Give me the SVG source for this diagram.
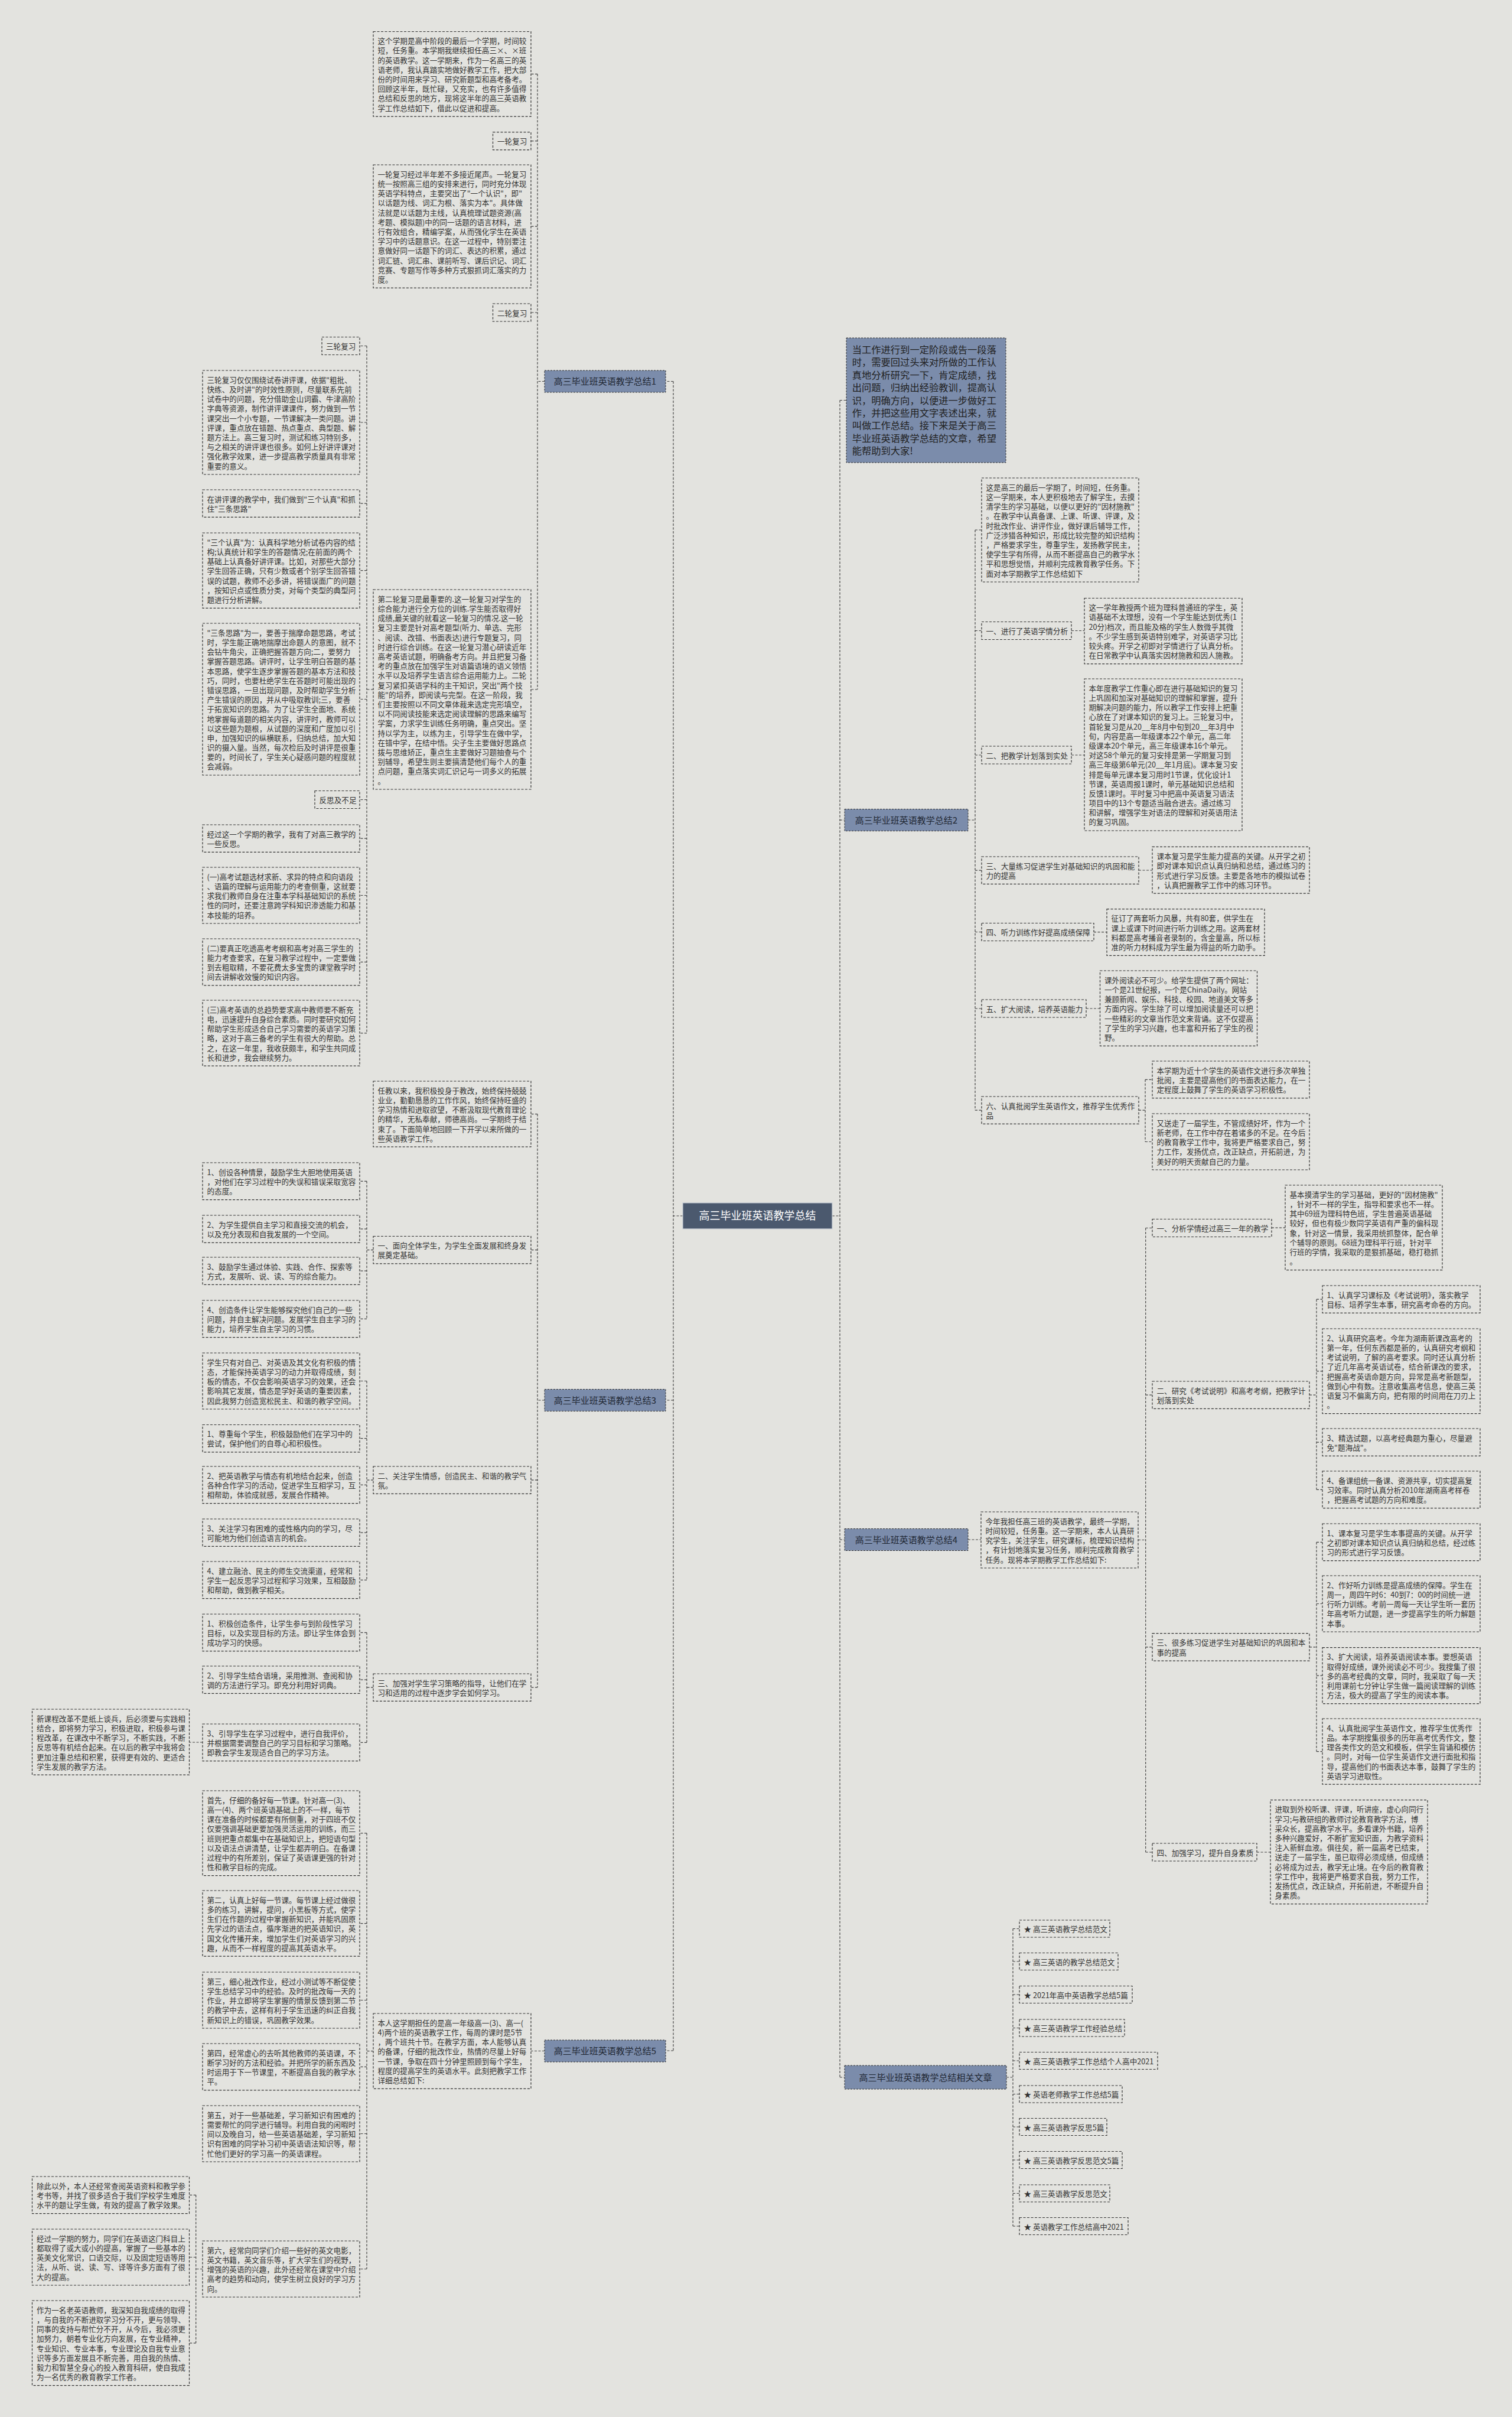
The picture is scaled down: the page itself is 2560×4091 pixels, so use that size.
<svg xmlns="http://www.w3.org/2000/svg" width="2560" height="4091" viewBox="0 0 2560 4091">
<style>
.t{font-family:"Noto Sans CJK SC","Noto Sans",sans-serif;font-size:12.6px;fill:#333}
.b{fill:none;stroke:#333;stroke-width:1.2;stroke-dasharray:4 2.5}
.c{fill:none;stroke:#444;stroke-width:1.2;stroke-dasharray:4 2.5}
.bn{fill:#7b8cab;stroke:#333;stroke-width:1;stroke-dasharray:3 2}
.bt{font-family:"Noto Sans CJK SC","Noto Sans",sans-serif;font-size:15px;fill:#1f2733;text-anchor:middle}
.it{font-family:"Noto Sans CJK SC","Noto Sans",sans-serif;font-size:16.3px;fill:#222}
.ct{font-family:"Noto Sans CJK SC","Noto Sans",sans-serif;font-size:18px;fill:#fff;text-anchor:middle}
</style>
<rect x="0" y="0" width="2560" height="4091" fill="#e3e3df"/>
<g id="connectors">
<path class="c" d="M1156,2058H1140M1140,645.5V3471M1140,645.5H1127M1140,2370H1127M1140,3471H1127"/>
<path class="c" d="M922,645.5H910M910,125.3V1167M910,125.3H899M910,238.6H899M910,383.2H899M910,529H899M910,1167H899"/>
<path class="c" d="M632,1167H621M621,585.5V1748.6M621,585.5H609M621,715H609M621,852.2H609M621,965.7H609M621,1183.5H609M621,1353.5H609M621,1419.2H609M621,1515.5H609M621,1628.4H609M621,1748.6H609"/>
<path class="c" d="M922,2370H910M910,1885.6V2856.2M910,1885.6H899M910,2115.7H899M910,2505.2H899M910,2856.2H899"/>
<path class="c" d="M632,2115.7H621M621,1999.3V2232.3M621,1999.3H609M621,2080.2H609M621,2151.2H609M621,2232.3H609"/>
<path class="c" d="M632,2505.2H621M621,2337.5V2674.3M621,2337.5H609M621,2434.7H609M621,2513.3H609M621,2594.2H609M621,2674.3H609"/>
<path class="c" d="M632,2856.2H621M621,2763.3V2949.3M621,2763.3H609M621,2843.2H609M621,2949.3H609M343,2949H320.5"/>
<path class="c" d="M922,3471.5H899M632,3471.7H621M621,3102.8V3840.5M621,3102.8H609M621,3255.6H609M621,3385.5H609M621,3498.4H609M621,3611.5H609M621,3840.5H609"/>
<path class="c" d="M343,3840.5H331.7M331.7,3715.3V3965.8M331.7,3715.3H320.5M331.7,3820.5H320.5M331.7,3965.8H320.5"/>
<path class="c" d="M1409,2058H1422M1422,677.5V3516M1422,677.5H1433M1422,1388H1430M1422,2606H1430M1422,3516H1430"/>
<path class="c" d="M1639,1388H1651M1651,897V1879.2M1651,897H1662M1651,1067.5H1662M1651,1278H1662M1651,1473.2H1662M1651,1577.5H1662M1651,1707H1662M1651,1879.2H1662"/>
<path class="c" d="M1814,1067.5H1836M1814,1278H1836M1928,1473H1951M1852,1577.7H1874M1839,1707H1862.5M1928,1879.2H1939M1939,1827.3V1932.5M1939,1827.3H1951M1939,1932.5H1951"/>
<path class="c" d="M1639,2606H1661M1927,2606.5H1939.7M1939.7,2078.5V3135M1939.7,2078.5H1951M1939.7,2361.2H1951M1939.7,2787.9H1951M1939.7,3135H1951"/>
<path class="c" d="M2153,2078.2H2176M2217,2361.2H2229M2229,2199.2V2521.3M2229,2199.2H2239M2229,2320.8H2239M2229,2441.2H2239M2229,2521.3H2239"/>
<path class="c" d="M2217,2787.9H2229M2229,2610.3V2964.6M2229,2610.3H2239M2229,2714.5H2239M2229,2836.2H2239M2229,2964.6H2239M2128,3135H2151"/>
<path class="c" d="M1704,3516H1715M1715,3264.5V3768M1715,3264.5H1726M1715,3320H1726M1715,3376H1726M1715,3432.5H1726M1715,3488H1726M1715,3544.5H1726M1715,3600H1726M1715,3656H1726M1715,3712.5H1726M1715,3768H1726"/>
</g>

<g id="center"><rect x="1156" y="2036" width="253" height="44" fill="#4b596e" stroke="#c9cfd8" stroke-width="1.2"/><text class="ct" x="1282.5" y="2064">高三毕业班英语教学总结</text></g>

<g id="branch1"><rect class="bn" x="922" y="627" width="205" height="37"/><text class="bt" x="1024.5" y="651">高三毕业班英语教学总结1</text></g>
<g id="branch3"><rect class="bn" x="922" y="2351.5" width="205" height="37"/><text class="bt" x="1024.5" y="2375.5">高三毕业班英语教学总结3</text></g>
<g id="branch5"><rect class="bn" x="922" y="3453" width="205" height="37"/><text class="bt" x="1024.5" y="3477">高三毕业班英语教学总结5</text></g>
<g id="branch2"><rect class="bn" x="1430" y="1369.5" width="209" height="37"/><text class="bt" x="1534.5" y="1393.5">高三毕业班英语教学总结2</text></g>
<g id="branch4"><rect class="bn" x="1430" y="2587.5" width="209" height="37"/><text class="bt" x="1534.5" y="2611.5">高三毕业班英语教学总结4</text></g>
<g id="branch-related"><rect class="bn" x="1430" y="3496" width="274" height="40"/><text class="bt" x="1567" y="3521.5">高三毕业班英语教学总结相关文章</text></g>

<g id="intro"><rect class="bn" x="1433" y="572" width="270" height="211"/><text class="it" x="1442.7" y="598"><tspan x="1442.7" dy="0">当工作进行到一定阶段或告一段落</tspan><tspan x="1442.7" dy="21.4">时，需要回过头来对所做的工作认</tspan><tspan x="1442.7" dy="21.4">真地分析研究一下，肯定成绩，找</tspan><tspan x="1442.7" dy="21.4">出问题，归纳出经验教训，提高认</tspan><tspan x="1442.7" dy="21.4">识，明确方向，以便进一步做好工</tspan><tspan x="1442.7" dy="21.4">作，并把这些用文字表述出来，就</tspan><tspan x="1442.7" dy="21.4">叫做工作总结。接下来是关于高三</tspan><tspan x="1442.7" dy="21.4">毕业班英语教学总结的文章，希望</tspan><tspan x="1442.7" dy="21.4">能帮助到大家!</tspan></text></g>

<!-- Branch 1 -->
<g id="a1"><rect class="b" x="632" y="53.5" width="267" height="143.6"/><text class="t" y="74.2"><tspan x="639.5" dy="0">这个学期是高中阶段的最后一个学期，时间较</tspan><tspan x="639.5" dy="16.2">短，任务重。本学期我继续担任高三×、×班</tspan><tspan x="639.5" dy="16.2">的英语教学。这一学期来，作为一名高三的英</tspan><tspan x="639.5" dy="16.2">语老师，我认真踏实地做好教学工作，把大部</tspan><tspan x="639.5" dy="16.2">份的时间用来学习、研究新题型和高考备考。</tspan><tspan x="639.5" dy="16.2">回顾这半年，既忙碌，又充实，也有许多值得</tspan><tspan x="639.5" dy="16.2">总结和反思的地方，现将这半年的高三英语教</tspan><tspan x="639.5" dy="16.2">学工作总结如下，借此以促进和提高。</tspan></text></g>
<g id="a2"><rect class="b" x="834.5" y="223.6" width="64.5" height="30"/><text class="t" x="842" y="244.3">一轮复习</text></g>
<g id="a3"><rect class="b" x="632" y="279" width="267" height="208.4"/><text class="t" y="299.7"><tspan x="639.5" dy="0">一轮复习经过半年差不多接近尾声。一轮复习</tspan><tspan x="639.5" dy="16.2">统一按照高三组的安排来进行，同时充分体现</tspan><tspan x="639.5" dy="16.2">英语学科特点，主要突出了"一个认识"，即"</tspan><tspan x="639.5" dy="16.2">以话题为线、词汇为根、落实为本"。具体做</tspan><tspan x="639.5" dy="16.2">法就是以话题为主线，认真梳理试题资源(高</tspan><tspan x="639.5" dy="16.2">考题、模拟题)中的同一话题的语言材料，进</tspan><tspan x="639.5" dy="16.2">行有效组合，精编学案，从而强化学生在英语</tspan><tspan x="639.5" dy="16.2">学习中的话题意识。在这一过程中，特别要注</tspan><tspan x="639.5" dy="16.2">意做好同一话题下的词汇、表达的积累，通过</tspan><tspan x="639.5" dy="16.2">词汇链、词汇串、课前听写、课后识记、词汇</tspan><tspan x="639.5" dy="16.2">竞赛、专题写作等多种方式狠抓词汇落实的力</tspan><tspan x="639.5" dy="16.2">度。</tspan></text></g>
<g id="a4"><rect class="b" x="834.5" y="514" width="64.5" height="30"/><text class="t" x="842" y="534.7">二轮复习</text></g>
<g id="a5"><rect class="b" x="632" y="998" width="267" height="338"/><text class="t" y="1018.7"><tspan x="639.5" dy="0">第二轮复习是最重要的.这一轮复习对学生的</tspan><tspan x="639.5" dy="16.2">综合能力进行全方位的训练.学生能否取得好</tspan><tspan x="639.5" dy="16.2">成绩,最关键的就看这一轮复习的情况.这一轮</tspan><tspan x="639.5" dy="16.2">复习主要是针对高考题型(听力、单选、完形</tspan><tspan x="639.5" dy="16.2">、阅读、改错、书面表达)进行专题复习，同</tspan><tspan x="639.5" dy="16.2">时进行综合训练。在这一轮复习潜心研读近年</tspan><tspan x="639.5" dy="16.2">高考英语试题，明确备考方向。并且把复习备</tspan><tspan x="639.5" dy="16.2">考的重点放在加强学生对语篇语境的语义领悟</tspan><tspan x="639.5" dy="16.2">水平以及培养学生语言综合运用能力上。二轮</tspan><tspan x="639.5" dy="16.2">复习紧扣英语学科的主干知识，突出"两个技</tspan><tspan x="639.5" dy="16.2">能"的培养，即阅读与完型。在这一阶段，我</tspan><tspan x="639.5" dy="16.2">们主要按照以不同文章体裁来选定完形填空，</tspan><tspan x="639.5" dy="16.2">以不同阅读技能来选定阅读理解的思路来编写</tspan><tspan x="639.5" dy="16.2">学案，力求学生训练任务明确，重点突出。坚</tspan><tspan x="639.5" dy="16.2">持以学为主，以练为主，引导学生在做中学，</tspan><tspan x="639.5" dy="16.2">在错中学，在结中悟。尖子生主要做好思路点</tspan><tspan x="639.5" dy="16.2">拨与思维矫正，重点生主要做好习题抽查与个</tspan><tspan x="639.5" dy="16.2">别辅导，希望生则主要搞清楚他们每个人的重</tspan><tspan x="639.5" dy="16.2">点问题，重点落实词汇识记与一词多义的拓展</tspan><tspan x="639.5" dy="16.2">。</tspan></text></g>
<g id="b1"><rect class="b" x="545" y="570.5" width="64" height="30"/><text class="t" x="552" y="591.2">三轮复习</text></g>
<g id="b2"><rect class="b" x="343" y="627" width="266" height="176"/><text class="t" y="647.7"><tspan x="350.5" dy="0">三轮复习仅仅围绕试卷讲评课，依据"粗批、</tspan><tspan x="350.5" dy="16.2">快练、及时讲"的时效性原则，尽量联系先前</tspan><tspan x="350.5" dy="16.2">试卷中的问题，充分借助金山词霸、牛津高阶</tspan><tspan x="350.5" dy="16.2">字典等资源，制作讲评课课件，努力做到一节</tspan><tspan x="350.5" dy="16.2">课突出一个小专题，一节课解决一类问题。讲</tspan><tspan x="350.5" dy="16.2">评课，重点放在错题、热点重点、典型题、解</tspan><tspan x="350.5" dy="16.2">题方法上。高三复习时，测试和练习特别多，</tspan><tspan x="350.5" dy="16.2">与之相关的讲评课也很多。如何上好讲评课对</tspan><tspan x="350.5" dy="16.2">强化教学效果，进一步提高教学质量具有非常</tspan><tspan x="350.5" dy="16.2">重要的意义。</tspan></text></g>
<g id="b3"><rect class="b" x="343" y="829" width="266" height="46.4"/><text class="t" y="849.7"><tspan x="350.5" dy="0">在讲评课的教学中，我们做到"三个认真"和抓</tspan><tspan x="350.5" dy="16.2">住"三条思路"</tspan></text></g>
<g id="b4"><rect class="b" x="343" y="902" width="266" height="127.4"/><text class="t" y="922.7"><tspan x="350.5" dy="0">"三个认真"为：认真科学地分析试卷内容的结</tspan><tspan x="350.5" dy="16.2">构;认真统计和学生的答题情况;在前面的两个</tspan><tspan x="350.5" dy="16.2">基础上认真备好讲评课。比如，对那些大部分</tspan><tspan x="350.5" dy="16.2">学生回答正确，只有少数或者个别学生回答错</tspan><tspan x="350.5" dy="16.2">误的试题，教师不必多讲，将错误面广的问题</tspan><tspan x="350.5" dy="16.2">，按知识点或性质分类，对每个类型的典型问</tspan><tspan x="350.5" dy="16.2">题进行分析讲解。</tspan></text></g>
<g id="b5"><rect class="b" x="343" y="1055" width="266" height="257"/><text class="t" y="1075.7"><tspan x="350.5" dy="0">"三条思路"为一，要善于揣摩命题思路，考试</tspan><tspan x="350.5" dy="16.2">时，学生能正确地揣摩出命题人的意图，就不</tspan><tspan x="350.5" dy="16.2">会钻牛角尖，正确把握答题方向;二，要努力</tspan><tspan x="350.5" dy="16.2">掌握答题思路。讲评时，让学生明白答题的基</tspan><tspan x="350.5" dy="16.2">本思路，使学生逐步掌握答题的基本方法和技</tspan><tspan x="350.5" dy="16.2">巧，同时，也要杜绝学生在答题时可能出现的</tspan><tspan x="350.5" dy="16.2">错误思路，一旦出现问题，及时帮助学生分析</tspan><tspan x="350.5" dy="16.2">产生错误的原因，并从中吸取教训;三，要善</tspan><tspan x="350.5" dy="16.2">于拓宽知识的思路。为了让学生全面地、系统</tspan><tspan x="350.5" dy="16.2">地掌握每道题的相关内容，讲评时，教师可以</tspan><tspan x="350.5" dy="16.2">以这些题为题根，从试题的深度和广度加以引</tspan><tspan x="350.5" dy="16.2">申，加强知识的纵横联系，归纳总结，加大知</tspan><tspan x="350.5" dy="16.2">识的摄入量。当然，每次检后及时讲评是很重</tspan><tspan x="350.5" dy="16.2">要的，时间长了，学生关心疑惑问题的程度就</tspan><tspan x="350.5" dy="16.2">会减弱。</tspan></text></g>
<g id="b6"><rect class="b" x="533" y="1338.5" width="76" height="30"/><text class="t" x="540.5" y="1359.2">反思及不足</text></g>
<g id="b7"><rect class="b" x="343" y="1396" width="266" height="46.4"/><text class="t" y="1416.7"><tspan x="350.5" dy="0">经过这一个学期的教学，我有了对高三教学的</tspan><tspan x="350.5" dy="16.2">一些反思。</tspan></text></g>
<g id="b8"><rect class="b" x="343" y="1468" width="266" height="95"/><text class="t" y="1488.7"><tspan x="350.5" dy="0">(一)高考试题选材求新、求异的特点和向语段</tspan><tspan x="350.5" dy="16.2">、语篇的理解与运用能力的考查侧重，这就要</tspan><tspan x="350.5" dy="16.2">求我们教师自身在注重本学科基础知识的系统</tspan><tspan x="350.5" dy="16.2">性的同时，还要注意跨学科知识渗透能力和基</tspan><tspan x="350.5" dy="16.2">本技能的培养。</tspan></text></g>
<g id="b9"><rect class="b" x="343" y="1589" width="266" height="78.8"/><text class="t" y="1609.7"><tspan x="350.5" dy="0">(二)要真正吃透高考考纲和高考对高三学生的</tspan><tspan x="350.5" dy="16.2">能力考查要求，在复习教学过程中，一定要做</tspan><tspan x="350.5" dy="16.2">到去粗取精，不要花费太多宝贵的课堂教学时</tspan><tspan x="350.5" dy="16.2">间去讲解收效慢的知识内容。</tspan></text></g>
<g id="b10"><rect class="b" x="343" y="1693" width="266" height="111.2"/><text class="t" y="1713.7"><tspan x="350.5" dy="0">(三)高考英语的总趋势要求高中教师要不断充</tspan><tspan x="350.5" dy="16.2">电，迅速提升自身综合素质。同时要研究如何</tspan><tspan x="350.5" dy="16.2">帮助学生形成适合自己学习需要的英语学习策</tspan><tspan x="350.5" dy="16.2">略，这对于高三备考的学生有很大的帮助。总</tspan><tspan x="350.5" dy="16.2">之，在这一年里，我收获颇丰，和学生共同成</tspan><tspan x="350.5" dy="16.2">长和进步，我会继续努力。</tspan></text></g>

<!-- Branch 3 -->
<g id="a6"><rect class="b" x="632" y="1830" width="267" height="111.2"/><text class="t" y="1850.7"><tspan x="639.5" dy="0">任教以来，我积极投身于教改，始终保持兢兢</tspan><tspan x="639.5" dy="16.2">业业，勤勤恳恳的工作作风，始终保持旺盛的</tspan><tspan x="639.5" dy="16.2">学习热情和进取欲望，不断汲取现代教育理论</tspan><tspan x="639.5" dy="16.2">的精华，无私奉献，师德高尚。一学期终于结</tspan><tspan x="639.5" dy="16.2">束了。下面简单地回顾一下开学以来所做的一</tspan><tspan x="639.5" dy="16.2">些英语教学工作。</tspan></text></g>
<g id="a7"><rect class="b" x="632" y="2092.5" width="267" height="46.4"/><text class="t" y="2113.2"><tspan x="639.5" dy="0">一、面向全体学生，为学生全面发展和终身发</tspan><tspan x="639.5" dy="16.2">展奠定基础。</tspan></text></g>
<g id="a8"><rect class="b" x="632" y="2482" width="267" height="46.4"/><text class="t" y="2502.7"><tspan x="639.5" dy="0">二、关注学生情感，创造民主、和谐的教学气</tspan><tspan x="639.5" dy="16.2">氛。</tspan></text></g>
<g id="a9"><rect class="b" x="632" y="2833" width="267" height="46.4"/><text class="t" y="2853.7"><tspan x="639.5" dy="0">三、加强对学生学习策略的指导，让他们在学</tspan><tspan x="639.5" dy="16.2">习和适用的过程中逐步学会如何学习。</tspan></text></g>
<g id="b11"><rect class="b" x="343" y="1968" width="266" height="62.6"/><text class="t" y="1988.7"><tspan x="350.5" dy="0">1、创设各种情景，鼓励学生大胆地使用英语</tspan><tspan x="350.5" dy="16.2">，对他们在学习过程中的失误和错误采取宽容</tspan><tspan x="350.5" dy="16.2">的态度。</tspan></text></g>
<g id="b12"><rect class="b" x="343" y="2057" width="266" height="46.4"/><text class="t" y="2077.7"><tspan x="350.5" dy="0">2、为学生提供自主学习和直接交流的机会，</tspan><tspan x="350.5" dy="16.2">以及充分表现和自我发展的一个空间。</tspan></text></g>
<g id="b13"><rect class="b" x="343" y="2128" width="266" height="46.4"/><text class="t" y="2148.7"><tspan x="350.5" dy="0">3、鼓励学生通过体验、实践、合作、探索等</tspan><tspan x="350.5" dy="16.2">方式，发展听、说、读、写的综合能力。</tspan></text></g>
<g id="b14"><rect class="b" x="343" y="2201" width="266" height="62.6"/><text class="t" y="2221.7"><tspan x="350.5" dy="0">4、创造条件让学生能够探究他们自己的一些</tspan><tspan x="350.5" dy="16.2">问题，并自主解决问题。发展学生自主学习的</tspan><tspan x="350.5" dy="16.2">能力，培养学生自主学习的习惯。</tspan></text></g>
<g id="b15"><rect class="b" x="343" y="2290" width="266" height="95"/><text class="t" y="2310.7"><tspan x="350.5" dy="0">学生只有对自己、对英语及其文化有积极的情</tspan><tspan x="350.5" dy="16.2">态，才能保持英语学习的动力并取得成绩，刻</tspan><tspan x="350.5" dy="16.2">板的情态，不仅会影响英语学习的效果，还会</tspan><tspan x="350.5" dy="16.2">影响其它发展，情态是学好英语的重要因素，</tspan><tspan x="350.5" dy="16.2">因此我努力创造宽松民主、和谐的教学空间。</tspan></text></g>
<g id="b16"><rect class="b" x="343" y="2411.5" width="266" height="46.4"/><text class="t" y="2432.2"><tspan x="350.5" dy="0">1、尊重每个学生，积极鼓励他们在学习中的</tspan><tspan x="350.5" dy="16.2">尝试，保护他们的自尊心和积极性。</tspan></text></g>
<g id="b17"><rect class="b" x="343" y="2482" width="266" height="62.6"/><text class="t" y="2502.7"><tspan x="350.5" dy="0">2、把英语教学与情态有机地结合起来，创造</tspan><tspan x="350.5" dy="16.2">各种合作学习的活动，促进学生互相学习，互</tspan><tspan x="350.5" dy="16.2">相帮助，体验成就感，发展合作精神。</tspan></text></g>
<g id="b18"><rect class="b" x="343" y="2571" width="266" height="46.4"/><text class="t" y="2591.7"><tspan x="350.5" dy="0">3、关注学习有困难的或性格内向的学习，尽</tspan><tspan x="350.5" dy="16.2">可能地为他们创造语言的机会。</tspan></text></g>
<g id="b19"><rect class="b" x="343" y="2643" width="266" height="62.6"/><text class="t" y="2663.7"><tspan x="350.5" dy="0">4、建立融洽、民主的师生交流渠道，经常和</tspan><tspan x="350.5" dy="16.2">学生一起反思学习过程和学习效果，互相鼓励</tspan><tspan x="350.5" dy="16.2">和帮助，做到教学相关。</tspan></text></g>
<g id="b20"><rect class="b" x="343" y="2732" width="266" height="62.6"/><text class="t" y="2752.7"><tspan x="350.5" dy="0">1、积极创造条件，让学生参与到阶段性学习</tspan><tspan x="350.5" dy="16.2">目标，以及实现目标的方法。即让学生体会到</tspan><tspan x="350.5" dy="16.2">成功学习的快感。</tspan></text></g>
<g id="b21"><rect class="b" x="343" y="2820" width="266" height="46.4"/><text class="t" y="2840.7"><tspan x="350.5" dy="0">2、引导学生结合语境，采用推测、查阅和协</tspan><tspan x="350.5" dy="16.2">调的方法进行学习。即充分利用好词典。</tspan></text></g>
<g id="b22"><rect class="b" x="343" y="2918" width="266" height="62.6"/><text class="t" y="2938.7"><tspan x="350.5" dy="0">3、引导学生在学习过程中，进行自我评价，</tspan><tspan x="350.5" dy="16.2">并根据需要调整自己的学习目标和学习策略。</tspan><tspan x="350.5" dy="16.2">即教会学生发现适合自己的学习方法。</tspan></text></g>
<g id="c1"><rect class="b" x="54.5" y="2893" width="266" height="111.2"/><text class="t" y="2913.7"><tspan x="62" dy="0">新课程改革不是纸上谈兵，后必须要与实践相</tspan><tspan x="62" dy="16.2">结合，即将努力学习，积极进取，积极参与课</tspan><tspan x="62" dy="16.2">程改革，在课改中不断学习，不断实践，不断</tspan><tspan x="62" dy="16.2">反思等有机结合起来。在以后的教学中我将会</tspan><tspan x="62" dy="16.2">更加注重总结和积累，获得更有效的、更适合</tspan><tspan x="62" dy="16.2">学生发展的教学方法。</tspan></text></g>

<!-- Branch 5 -->
<g id="a10"><rect class="b" x="632" y="3408" width="267" height="127.4"/><text class="t" y="3428.7"><tspan x="639.5" dy="0">本人这学期担任的是高一年级高一(3)、高一(</tspan><tspan x="639.5" dy="16.2">4)两个班的英语教学工作，每周的课时是5节</tspan><tspan x="639.5" dy="16.2">，两个班共十节。在教学方面，本人能够认真</tspan><tspan x="639.5" dy="16.2">的备课，仔细的批改作业，热情的尽量上好每</tspan><tspan x="639.5" dy="16.2">一节课，争取在四十分钟里照顾到每个学生，</tspan><tspan x="639.5" dy="16.2">程度的提高学生的英语水平。此刻把教学工作</tspan><tspan x="639.5" dy="16.2">详细总结如下:</tspan></text></g>
<g id="b23"><rect class="b" x="343" y="3031" width="266" height="143.6"/><text class="t" y="3051.7"><tspan x="350.5" dy="0">首先，仔细的备好每一节课。针对高一(3)、</tspan><tspan x="350.5" dy="16.2">高一(4)、两个班英语基础上的不一样，每节</tspan><tspan x="350.5" dy="16.2">课在准备的时候都要有所侧重，对于四班不仅</tspan><tspan x="350.5" dy="16.2">仅要强调基础更要加强灵活运用的训练，而三</tspan><tspan x="350.5" dy="16.2">班则把重点都集中在基础知识上，把短语句型</tspan><tspan x="350.5" dy="16.2">以及语法点讲清楚，让学生都弄明白。在备课</tspan><tspan x="350.5" dy="16.2">过程中的有所差别，保证了英语课更强的针对</tspan><tspan x="350.5" dy="16.2">性和教学目标的完成。</tspan></text></g>
<g id="b24"><rect class="b" x="343" y="3200" width="266" height="111.2"/><text class="t" y="3220.7"><tspan x="350.5" dy="0">第二，认真上好每一节课。每节课上经过做很</tspan><tspan x="350.5" dy="16.2">多的练习，讲解，提问，小黑板等方式，使学</tspan><tspan x="350.5" dy="16.2">生们在作题的过程中掌握新知识，并能巩固原</tspan><tspan x="350.5" dy="16.2">先学过的语法点，循序渐进的把英语知识，英</tspan><tspan x="350.5" dy="16.2">国文化传播开来，增加学生们对英语学习的兴</tspan><tspan x="350.5" dy="16.2">趣，从而不一样程度的提高其英语水平。</tspan></text></g>
<g id="b25"><rect class="b" x="343" y="3338" width="266" height="95"/><text class="t" y="3358.7"><tspan x="350.5" dy="0">第三，细心批改作业，经过小测试等不断促使</tspan><tspan x="350.5" dy="16.2">学生总结学习中的经验。及时的批改每一天的</tspan><tspan x="350.5" dy="16.2">作业，并立即将学生掌握的情景反馈到第二节</tspan><tspan x="350.5" dy="16.2">的教学中去，这样有利于学生迅速的纠正自我</tspan><tspan x="350.5" dy="16.2">新知识上的错误，巩固教学效果。</tspan></text></g>
<g id="b26"><rect class="b" x="343" y="3459" width="266" height="78.8"/><text class="t" y="3479.7"><tspan x="350.5" dy="0">第四，经常虚心的去听其他教师的英语课，不</tspan><tspan x="350.5" dy="16.2">断学习好的方法和经验。并把所学的新东西及</tspan><tspan x="350.5" dy="16.2">时运用于下一节课里，不断提高自我的教学水</tspan><tspan x="350.5" dy="16.2">平。</tspan></text></g>
<g id="b27"><rect class="b" x="343" y="3564" width="266" height="95"/><text class="t" y="3584.7"><tspan x="350.5" dy="0">第五，对于一些基础差，学习新知识有困难的</tspan><tspan x="350.5" dy="16.2">需要帮忙的同学进行辅导。利用自我的闲暇时</tspan><tspan x="350.5" dy="16.2">间以及晚自习，给一些英语基础差，学习新知</tspan><tspan x="350.5" dy="16.2">识有困难的同学补习初中英语语法知识等，帮</tspan><tspan x="350.5" dy="16.2">忙他们更好的学习高一的英语课程。</tspan></text></g>
<g id="b28"><rect class="b" x="343" y="3793" width="266" height="95"/><text class="t" y="3813.7"><tspan x="350.5" dy="0">第六，经常向同学们介绍一些好的英文电影，</tspan><tspan x="350.5" dy="16.2">英文书籍，英文音乐等，扩大学生们的视野，</tspan><tspan x="350.5" dy="16.2">增强的英语的兴趣，此外还经常在课堂中介绍</tspan><tspan x="350.5" dy="16.2">高考的趋势和动向，使学生树立良好的学习方</tspan><tspan x="350.5" dy="16.2">向。</tspan></text></g>
<g id="c2"><rect class="b" x="54.5" y="3684" width="266" height="62.6"/><text class="t" y="3704.7"><tspan x="62" dy="0">除此以外，本人还经常查阅英语资料和教学参</tspan><tspan x="62" dy="16.2">考书等，并找了很多适合于我们学校学生难度</tspan><tspan x="62" dy="16.2">水平的题让学生做，有效的提高了教学效果。</tspan></text></g>
<g id="c3"><rect class="b" x="54.5" y="3773" width="266" height="95"/><text class="t" y="3793.7"><tspan x="62" dy="0">经过一学期的努力，同学们在英语这门科目上</tspan><tspan x="62" dy="16.2">都取得了或大或小的提高，掌握了一些基本的</tspan><tspan x="62" dy="16.2">英美文化常识，口语交际，以及固定短语等用</tspan><tspan x="62" dy="16.2">法，从听、说、读、写、译等许多方面有了很</tspan><tspan x="62" dy="16.2">大的提高。</tspan></text></g>
<g id="c4"><rect class="b" x="54.5" y="3894" width="266" height="143.6"/><text class="t" y="3914.7"><tspan x="62" dy="0">作为一名老英语教师，我深知自我成绩的取得</tspan><tspan x="62" dy="16.2">，与自我的不断进取学习分不开，更与领导、</tspan><tspan x="62" dy="16.2">同事的支持与帮忙分不开，从今后，我必须更</tspan><tspan x="62" dy="16.2">加努力，朝着专业化方向发展，在专业精神，</tspan><tspan x="62" dy="16.2">专业知识、专业本事，专业理论及自我专业意</tspan><tspan x="62" dy="16.2">识等多方面发展且不断完善，用自我的热情、</tspan><tspan x="62" dy="16.2">毅力和智慧全身心的投入教育科研，使自我成</tspan><tspan x="62" dy="16.2">为一名优秀的教育教学工作者。</tspan></text></g>

<!-- Branch 2 -->
<g id="r1"><rect class="b" x="1662" y="809" width="266" height="176"/><text class="t" y="829.7"><tspan x="1669.5" dy="0">这是高三的最后一学期了，时间短，任务重。</tspan><tspan x="1669.5" dy="16.2">这一学期来，本人更积极地去了解学生，去摸</tspan><tspan x="1669.5" dy="16.2">清学生的学习基础，以便以更好的"因材施教"</tspan><tspan x="1669.5" dy="16.2">。在教学中认真备课、上课、听课、评课，及</tspan><tspan x="1669.5" dy="16.2">时批改作业、讲评作业，做好课后辅导工作，</tspan><tspan x="1669.5" dy="16.2">广泛涉猎各种知识，形成比较完整的知识结构</tspan><tspan x="1669.5" dy="16.2">，严格要求学生，尊重学生，发扬教学民主，</tspan><tspan x="1669.5" dy="16.2">使学生学有所得，从而不断提高自己的教学水</tspan><tspan x="1669.5" dy="16.2">平和思想觉悟，并顺利完成教育教学任务。下</tspan><tspan x="1669.5" dy="16.2">面对本学期教学工作总结如下</tspan></text></g>
<g id="r2"><rect class="b" x="1662" y="1052.5" width="152" height="30"/><text class="t" x="1669.5" y="1073.2">一、进行了英语学情分析</text></g>
<g id="r2c"><rect class="b" x="1836" y="1012.5" width="267" height="111.2"/><text class="t" y="1033.2"><tspan x="1843.5" dy="0">这一学年教授两个班为理科普通班的学生，英</tspan><tspan x="1843.5" dy="16.2">语基础不太理想，没有一个学生能达到优秀(1</tspan><tspan x="1843.5" dy="16.2">20分)档次，而且能及格的学生人数微乎其微</tspan><tspan x="1843.5" dy="16.2">。不少学生感到英语特别难学，对英语学习比</tspan><tspan x="1843.5" dy="16.2">较头疼。开学之初即对学情进行了认真分析。</tspan><tspan x="1843.5" dy="16.2">在日常教学中认真落实因材施教和因人施教。</tspan></text></g>
<g id="r3"><rect class="b" x="1662" y="1263" width="152" height="30"/><text class="t" x="1669.5" y="1283.7">二、把教学计划落到实处</text></g>
<g id="r3c"><rect class="b" x="1836" y="1149" width="267" height="257"/><text class="t" y="1169.7"><tspan x="1843.5" dy="0">本年度教学工作重心即在进行基础知识的复习</tspan><tspan x="1843.5" dy="16.2">上巩固和加深对基础知识的理解和掌握，提升</tspan><tspan x="1843.5" dy="16.2">期解决问题的能力，所以教学工作安排上把重</tspan><tspan x="1843.5" dy="16.2">心放在了对课本知识的复习上。三轮复习中，</tspan><tspan x="1843.5" dy="16.2">首轮复习是从20__年8月中旬到20__年3月中</tspan><tspan x="1843.5" dy="16.2">旬，内容是高一年级课本22个单元，高二年</tspan><tspan x="1843.5" dy="16.2">级课本20个单元，高三年级课本16个单元。</tspan><tspan x="1843.5" dy="16.2">对这58个单元的复习安排是第一学期复习到</tspan><tspan x="1843.5" dy="16.2">高三年级第6单元(20__年1月底)。课本复习安</tspan><tspan x="1843.5" dy="16.2">排是每单元课本复习用时1节课，优化设计1</tspan><tspan x="1843.5" dy="16.2">节课，英语周报1课时，单元基础知识总结和</tspan><tspan x="1843.5" dy="16.2">反馈1课时。平时复习中把高中英语复习语法</tspan><tspan x="1843.5" dy="16.2">项目中的13个专题适当融合进去。通过练习</tspan><tspan x="1843.5" dy="16.2">和讲解，增强学生对语法的理解和对英语用法</tspan><tspan x="1843.5" dy="16.2">的复习巩固。</tspan></text></g>
<g id="r4"><rect class="b" x="1662" y="1450" width="266" height="46.4"/><text class="t" y="1470.7"><tspan x="1669.5" dy="0">三、大量练习促进学生对基础知识的巩固和能</tspan><tspan x="1669.5" dy="16.2">力的提高</tspan></text></g>
<g id="r4c"><rect class="b" x="1951" y="1433.4" width="266" height="78.8"/><text class="t" y="1454.1"><tspan x="1958.5" dy="0">课本复习是学生能力提高的关键。从开学之初</tspan><tspan x="1958.5" dy="16.2">即对课本知识点认真归纳和总结，通过练习的</tspan><tspan x="1958.5" dy="16.2">形式进行学习反馈。主要是各地市的模拟试卷</tspan><tspan x="1958.5" dy="16.2">，认真把握教学工作中的练习环节。</tspan></text></g>
<g id="r5"><rect class="b" x="1662" y="1562.5" width="190" height="30"/><text class="t" x="1669.5" y="1583.2">四、听力训练作好提高成绩保障</text></g>
<g id="r5c"><rect class="b" x="1874" y="1538.6" width="267" height="78.8"/><text class="t" y="1559.3"><tspan x="1881.5" dy="0">征订了两套听力风暴，共有80套，供学生在</tspan><tspan x="1881.5" dy="16.2">课上或课下时间进行听力训练之用。这两套材</tspan><tspan x="1881.5" dy="16.2">料都是高考播音者录制的，含金量高，所以标</tspan><tspan x="1881.5" dy="16.2">准的听力材料成为学生最为得益的听力助手。</tspan></text></g>
<g id="r6"><rect class="b" x="1662" y="1692" width="177" height="30"/><text class="t" x="1669.5" y="1712.7">五、扩大阅读，培养英语能力</text></g>
<g id="r6c"><rect class="b" x="1862.5" y="1643" width="266" height="127.4"/><text class="t" y="1663.7"><tspan x="1870" dy="0">课外阅读必不可少。给学生提供了两个网址：</tspan><tspan x="1870" dy="16.2">一个是21世纪报，一个是ChinaDaily。网站</tspan><tspan x="1870" dy="16.2">兼顾新闻、娱乐、科技、校园、地道美文等多</tspan><tspan x="1870" dy="16.2">方面内容。学生除了可以增加阅读量还可以把</tspan><tspan x="1870" dy="16.2">一些精彩的文章当作范文来背诵。这不仅提高</tspan><tspan x="1870" dy="16.2">了学生的学习兴趣，也丰富和开拓了学生的视</tspan><tspan x="1870" dy="16.2">野。</tspan></text></g>
<g id="r7"><rect class="b" x="1662" y="1856" width="266" height="46.4"/><text class="t" y="1876.7"><tspan x="1669.5" dy="0">六、认真批阅学生英语作文，推荐学生优秀作</tspan><tspan x="1669.5" dy="16.2">品</tspan></text></g>
<g id="r7a"><rect class="b" x="1951" y="1796" width="266" height="62.6"/><text class="t" y="1816.7"><tspan x="1958.5" dy="0">本学期为近十个学生的英语作文进行多次单独</tspan><tspan x="1958.5" dy="16.2">批阅，主要是提高他们的书面表达能力，在一</tspan><tspan x="1958.5" dy="16.2">定程度上鼓舞了学生的英语学习积极性。</tspan></text></g>
<g id="r7b"><rect class="b" x="1951" y="1885" width="266" height="95"/><text class="t" y="1905.7"><tspan x="1958.5" dy="0">又送走了一届学生，不管成绩好坏，作为一个</tspan><tspan x="1958.5" dy="16.2">新老师，在工作中存在着诸多的不足。在今后</tspan><tspan x="1958.5" dy="16.2">的教育教学工作中，我将更严格要求自己，努</tspan><tspan x="1958.5" dy="16.2">力工作，发扬优点，改正缺点，开拓前进，为</tspan><tspan x="1958.5" dy="16.2">美好的明天贡献自己的力量。</tspan></text></g>

<!-- Branch 4 -->
<g id="s0"><rect class="b" x="1661" y="2559" width="266" height="95"/><text class="t" y="2579.7"><tspan x="1668.5" dy="0">今年我担任高三班的英语教学，最终一学期，</tspan><tspan x="1668.5" dy="16.2">时间较短，任务重。这一学期来，本人认真研</tspan><tspan x="1668.5" dy="16.2">究学生，关注学生，研究课标，梳理知识结构</tspan><tspan x="1668.5" dy="16.2">，有计划地落实复习任务，顺利完成教育教学</tspan><tspan x="1668.5" dy="16.2">任务。现将本学期教学工作总结如下:</tspan></text></g>
<g id="s1"><rect class="b" x="1951" y="2063.5" width="202" height="30"/><text class="t" x="1958.5" y="2084.2">一、分析学情经过高三一年的教学</text></g>
<g id="s1c"><rect class="b" x="2176" y="2006" width="266" height="143.6"/><text class="t" y="2026.7"><tspan x="2183.5" dy="0">基本摸清学生的学习基础，更好的"因材施教"</tspan><tspan x="2183.5" dy="16.2">，针对不一样的学生，指导和要求也不一样。</tspan><tspan x="2183.5" dy="16.2">其中69班为理科特色班，学生普遍英语基础</tspan><tspan x="2183.5" dy="16.2">较好，但也有极少数同学英语有严重的偏科现</tspan><tspan x="2183.5" dy="16.2">象，针对这一情景，我采用统抓整体，配合单</tspan><tspan x="2183.5" dy="16.2">个辅导的原则。68班为理科平行班，针对平</tspan><tspan x="2183.5" dy="16.2">行班的学情，我采取的是狠抓基础，稳打稳抓</tspan><tspan x="2183.5" dy="16.2">。</tspan></text></g>
<g id="s2"><rect class="b" x="1951" y="2338" width="266" height="46.4"/><text class="t" y="2358.7"><tspan x="1958.5" dy="0">二、研究《考试说明》和高考考纲，把教学计</tspan><tspan x="1958.5" dy="16.2">划落到实处</tspan></text></g>
<g id="s2a"><rect class="b" x="2239" y="2176" width="267" height="46.4"/><text class="t" y="2196.7"><tspan x="2246.5" dy="0">1、认真学习课标及《考试说明》，落实教学</tspan><tspan x="2246.5" dy="16.2">目标、培养学生本事，研究高考命卷的方向。</tspan></text></g>
<g id="s2b"><rect class="b" x="2239" y="2249" width="267" height="143.6"/><text class="t" y="2269.7"><tspan x="2246.5" dy="0">2、认真研究高考。今年为湖南新课改高考的</tspan><tspan x="2246.5" dy="16.2">第一年，任何东西都是新的，认真研究考纲和</tspan><tspan x="2246.5" dy="16.2">考试说明，了解的高考要求。同时还认真分析</tspan><tspan x="2246.5" dy="16.2">了近几年高考英语试卷，结合新课改的要求，</tspan><tspan x="2246.5" dy="16.2">把握高考英语命题方向，异常是高考新题型，</tspan><tspan x="2246.5" dy="16.2">做到心中有数。注意收集高考信息，使高三英</tspan><tspan x="2246.5" dy="16.2">语复习不偏离方向，把有限的时间用在刀刃上</tspan><tspan x="2246.5" dy="16.2">。</tspan></text></g>
<g id="s2c"><rect class="b" x="2239" y="2418" width="267" height="46.4"/><text class="t" y="2438.7"><tspan x="2246.5" dy="0">3、精选试题，以高考经典题为重心，尽量避</tspan><tspan x="2246.5" dy="16.2">免"题海战"。</tspan></text></g>
<g id="s2d"><rect class="b" x="2239" y="2490" width="267" height="62.6"/><text class="t" y="2510.7"><tspan x="2246.5" dy="0">4、备课组统一备课、资源共享，切实提高复</tspan><tspan x="2246.5" dy="16.2">习效率。同时认真分析2010年湖南高考样卷</tspan><tspan x="2246.5" dy="16.2">，把握高考试题的方向和难度。</tspan></text></g>
<g id="s3"><rect class="b" x="1951" y="2764.7" width="266" height="46.4"/><text class="t" y="2785.4"><tspan x="1958.5" dy="0">三、很多练习促进学生对基础知识的巩固和本</tspan><tspan x="1958.5" dy="16.2">事的提高</tspan></text></g>
<g id="s3a"><rect class="b" x="2239" y="2579" width="267" height="62.6"/><text class="t" y="2599.7"><tspan x="2246.5" dy="0">1、课本复习是学生本事提高的关键。从开学</tspan><tspan x="2246.5" dy="16.2">之初即对课本知识点认真归纳和总结，经过练</tspan><tspan x="2246.5" dy="16.2">习的形式进行学习反馈。</tspan></text></g>
<g id="s3b"><rect class="b" x="2239" y="2667" width="267" height="95"/><text class="t" y="2687.7"><tspan x="2246.5" dy="0">2、作好听力训练是提高成绩的保障。学生在</tspan><tspan x="2246.5" dy="16.2">周一，周四午时6：40到7：00的时间统一进</tspan><tspan x="2246.5" dy="16.2">行听力训练。考前一周每一天让学生听一套历</tspan><tspan x="2246.5" dy="16.2">年高考听力试题，进一步提高学生的听力解题</tspan><tspan x="2246.5" dy="16.2">本事。</tspan></text></g>
<g id="s3c"><rect class="b" x="2239" y="2788.7" width="267" height="95"/><text class="t" y="2809.4"><tspan x="2246.5" dy="0">3、扩大阅读，培养英语阅读本事。要想英语</tspan><tspan x="2246.5" dy="16.2">取得好成绩，课外阅读必不可少。我搜集了很</tspan><tspan x="2246.5" dy="16.2">多的高考经典的文章，同时，我采取了每一天</tspan><tspan x="2246.5" dy="16.2">利用课前七分钟让学生做一篇阅读理解的训练</tspan><tspan x="2246.5" dy="16.2">方法，极大的提高了学生的阅读本事。</tspan></text></g>
<g id="s3d"><rect class="b" x="2239" y="2909" width="267" height="111.2"/><text class="t" y="2929.7"><tspan x="2246.5" dy="0">4、认真批阅学生英语作文，推荐学生优秀作</tspan><tspan x="2246.5" dy="16.2">品。本学期搜集很多的历年高考优秀作文，整</tspan><tspan x="2246.5" dy="16.2">理各类作文的范文和模板，供学生背诵和模仿</tspan><tspan x="2246.5" dy="16.2">。同时，对每一位学生英语作文进行面批和指</tspan><tspan x="2246.5" dy="16.2">导，提高他们的书面表达本事，鼓舞了学生的</tspan><tspan x="2246.5" dy="16.2">英语学习进取性。</tspan></text></g>
<g id="s4"><rect class="b" x="1951" y="3120" width="177" height="30"/><text class="t" x="1958.5" y="3140.7">四、加强学习，提升自身素质</text></g>
<g id="s4c"><rect class="b" x="2151" y="3046.6" width="266" height="176"/><text class="t" y="3067.3"><tspan x="2158.5" dy="0">进取到外校听课、评课，听讲座，虚心向同行</tspan><tspan x="2158.5" dy="16.2">学习;与教研组的教师讨论教育教学方法，博</tspan><tspan x="2158.5" dy="16.2">采众长，提高教学水平。多看课外书籍，培养</tspan><tspan x="2158.5" dy="16.2">多种兴趣爱好，不断扩宽知识面，为教学资料</tspan><tspan x="2158.5" dy="16.2">注入新鲜血液。俱往矣，新一届高考已结束，</tspan><tspan x="2158.5" dy="16.2">送走了一届学生，虽已取得必须成绩，但成绩</tspan><tspan x="2158.5" dy="16.2">必将成为过去，教学无止境。在今后的教育教</tspan><tspan x="2158.5" dy="16.2">学工作中，我将更严格要求自我，努力工作，</tspan><tspan x="2158.5" dy="16.2">发扬优点，改正缺点，开拓前进，不断提升自</tspan><tspan x="2158.5" dy="16.2">身素质。</tspan></text></g>

<!-- Related -->
<g id="rel1"><rect class="b" x="1726" y="3250" width="153" height="29"/><text class="t" x="1733.5" y="3270">★ 高三英语教学总结范文</text></g>
<g id="rel2"><rect class="b" x="1726" y="3305.5" width="167" height="29"/><text class="t" x="1733.5" y="3325.5">★ 高三英语的教学总结范文</text></g>
<g id="rel3"><rect class="b" x="1726" y="3361.5" width="191" height="29"/><text class="t" x="1733.5" y="3381.5">★ 2021年高中英语教学总结5篇</text></g>
<g id="rel4"><rect class="b" x="1726" y="3418" width="178" height="29"/><text class="t" x="1733.5" y="3438">★ 高三英语教学工作经验总结</text></g>
<g id="rel5"><rect class="b" x="1726" y="3473.5" width="234" height="29"/><text class="t" x="1733.5" y="3493.5">★ 高三英语教学工作总结个人高中2021</text></g>
<g id="rel6"><rect class="b" x="1726" y="3530" width="174" height="29"/><text class="t" x="1733.5" y="3550">★ 英语老师教学工作总结5篇</text></g>
<g id="rel7"><rect class="b" x="1726" y="3585.5" width="148" height="29"/><text class="t" x="1733.5" y="3605.5">★ 高三英语教学反思5篇</text></g>
<g id="rel8"><rect class="b" x="1726" y="3641.5" width="174" height="29"/><text class="t" x="1733.5" y="3661.5">★ 高三英语教学反思范文5篇</text></g>
<g id="rel9"><rect class="b" x="1726" y="3698" width="153" height="29"/><text class="t" x="1733.5" y="3718">★ 高三英语教学反思范文</text></g>
<g id="rel10"><rect class="b" x="1726" y="3753.5" width="184" height="29"/><text class="t" x="1733.5" y="3773.5">★ 英语教学工作总结高中2021</text></g>
</svg>
